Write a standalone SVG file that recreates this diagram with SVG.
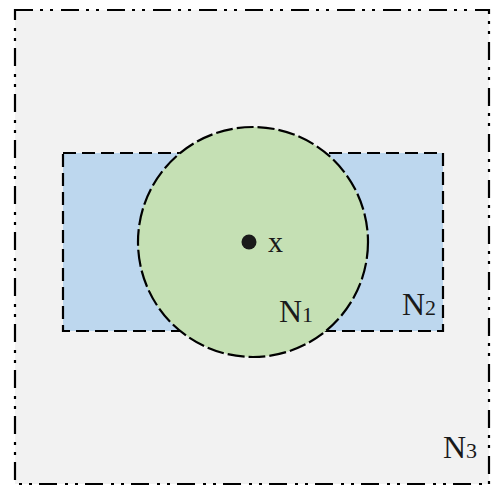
<svg xmlns="http://www.w3.org/2000/svg" width="492" height="487" viewBox="0 0 492 487">
<style>
.lbl{font-family:"Liberation Serif","DejaVu Serif",serif;fill:#1a1a1a}
.big{font-size:32px}
.sub{font-size:22px}
</style>
<rect width="492" height="487" fill="#ffffff"/>
<g id="N3">
<rect x="15" y="10" width="474" height="474" fill="#f2f2f2" stroke="#000" stroke-width="2.2" stroke-dasharray="18 7 3 7 3 8"/>
<text class="lbl" x="443" y="458"><tspan class="big">N</tspan><tspan class="sub">3</tspan></text>
</g>
<g id="N2">
<rect x="63" y="153" width="380" height="178" fill="#bdd7ee" stroke="#000" stroke-width="2.2" stroke-dasharray="13 6"/>
<text class="lbl" x="402" y="315"><tspan class="big">N</tspan><tspan class="sub">2</tspan></text>
</g>
<g id="N1">
<circle cx="253" cy="242" r="115" fill="#c5e0b4" stroke="#000" stroke-width="2.2" stroke-dasharray="17 4"/>
<text class="lbl" x="279" y="322"><tspan class="big">N</tspan><tspan class="sub">1</tspan></text>
</g>
<g id="x">
<circle cx="249" cy="242" r="7.5" fill="#1a1a1a"/>
<text class="lbl" x="268" y="252" font-size="30">x</text>
</g>
<g id="connectors"/>
</svg>
